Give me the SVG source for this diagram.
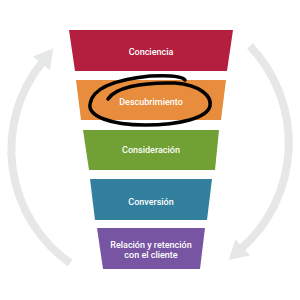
<svg xmlns="http://www.w3.org/2000/svg" width="300" height="300" viewBox="0 0 300 300">
<style>
.lbl{font-family:Roboto,"Liberation Sans",sans-serif;font-weight:500;font-size:9px;fill:#ffffff;text-anchor:middle}
.arc{fill:none;stroke:#E6E7E8;stroke-width:8}
</style>
<defs>
<marker id="ah" markerUnits="userSpaceOnUse" markerWidth="22" markerHeight="24" refX="1" refY="0" viewBox="0 -12 22 24" orient="auto" overflow="visible">
<path d="M0,-11 L19,0 L0,11 Z" fill="#E6E7E8"/>
</marker>
</defs>
<rect width="300" height="300" fill="#ffffff"/>
<g id="connectors">
<path class="arc" d="M70,263 A139,139 0 0 1 42,62.5" marker-end="url(#ah)"/>
<path class="arc" d="M250,46 A141,141 0 0 1 242,248" marker-end="url(#ah)"/>
</g>
<g id="conciencia">
<polygon points="69,30 233,30 227,71 75,71" fill="#B41F3F"/>
<text class="lbl" x="151" y="55">Conciencia</text>
</g>
<g id="descubrimiento">
<polygon points="76,80 226,80 221,120 81,120" fill="#E88D3D"/>
<text class="lbl" x="151" y="105">Descubrimiento</text>
</g>
<g id="consideracion">
<polygon points="83,130 219,130 215,170 89,170" fill="#71A035"/>
<text class="lbl" x="151" y="153">Consideración</text>
</g>
<g id="conversion">
<polygon points="90,179 212,179 207,220 95,220" fill="#33809E"/>
<text class="lbl" x="151" y="205">Conversión</text>
</g>
<g id="relacion">
<polygon points="97,228 205,228 200,269 103,269" fill="#7855A2"/>
<text class="lbl" x="151" y="248">Relación y retención</text>
<text class="lbl" x="151" y="258">con el cliente</text>
</g>
<g id="scribble">
<path d="M108,99 C115,88 140,82 175,83 C200,85 212,96 210,106 C207,118 180,125 145,125 C110,125 88,116 90,104 C92,90 110,80 150,76 C170,75 182,76 185,80" fill="none" stroke="#000000" stroke-width="3.5" stroke-linecap="round"/>
</g>
</svg>
